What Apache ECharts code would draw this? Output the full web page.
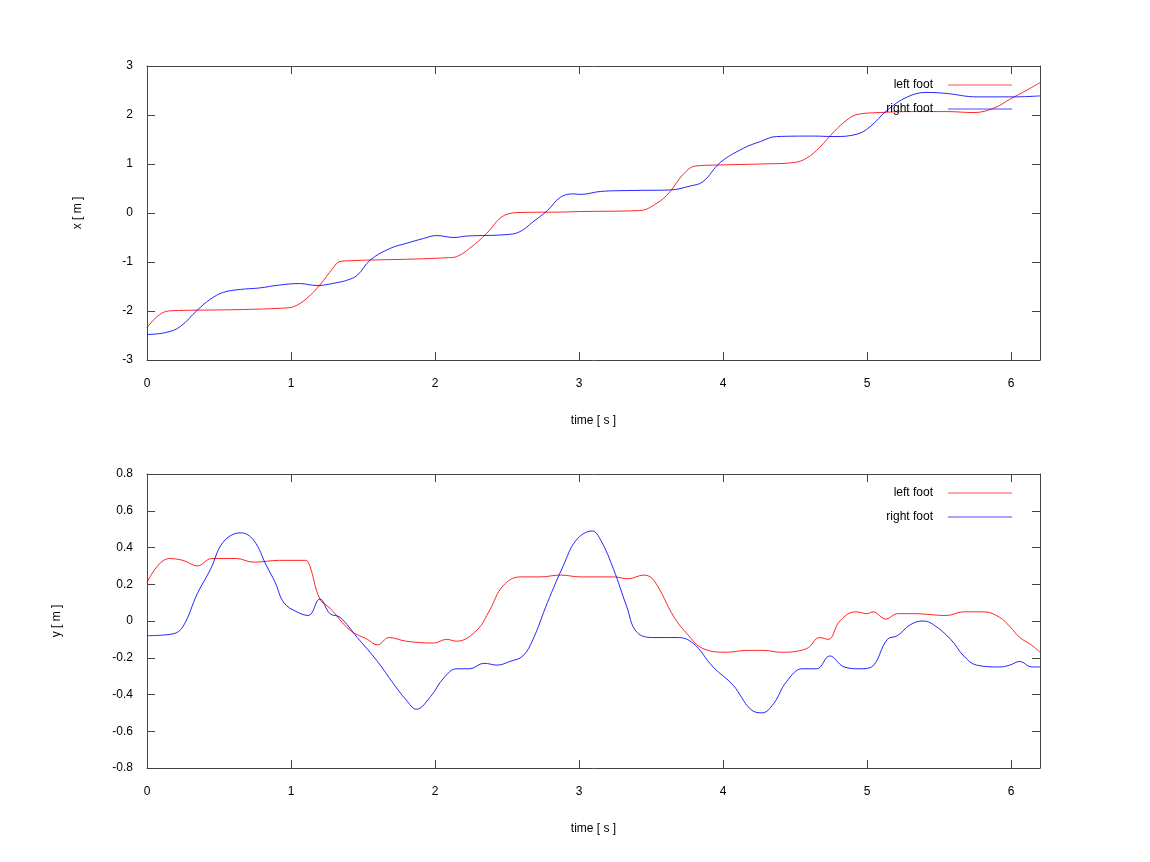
<!DOCTYPE html>
<html><head><meta charset="utf-8">
<script src="https://cdn.jsdelivr.net/npm/echarts@6/dist/echarts.min.js"></script>
<style>html,body{margin:0;padding:0;background:#fff}#c{width:1150px;height:862px}</style>
</head><body><div id="c"></div>
<script>
// top plot: x position [m] vs time [s]
const xLeftFoot = [[0,-2.34],[0.13,-2.01],[0.22,-1.99],[0.45,-1.98],[0.67,-1.97],[0.95,-1.94],[1.02,-1.91],[1.11,-1.74],[1.20,-1.47],[1.29,-1.13],[1.34,-0.99],[1.45,-0.97],[1.55,-0.96],[1.85,-0.94],[2.10,-0.91],[2.15,-0.89],[2.24,-0.72],[2.36,-0.41],[2.45,-0.11],[2.52,-0.01],[2.59,0.01],[2.89,0.02],[3.01,0.03],[3.42,0.05],[3.54,0.20],[3.63,0.43],[3.72,0.78],[3.81,0.96],[3.98,0.98],[4.26,1.00],[4.49,1.03],[4.58,1.12],[4.67,1.34],[4.77,1.66],[4.86,1.90],[4.93,2.01],[5.09,2.05],[5.32,2.07],[5.55,2.07],[5.74,2.05],[5.88,2.14],[5.99,2.32],[6.11,2.51],[6.2,2.66]];
const xRightFoot = [[0,-2.48],[0.13,-2.44],[0.23,-2.32],[0.35,-1.98],[0.44,-1.76],[0.53,-1.62],[0.65,-1.56],[0.78,-1.53],[0.92,-1.47],[1.06,-1.44],[1.18,-1.48],[1.32,-1.42],[1.39,-1.37],[1.46,-1.27],[1.55,-0.96],[1.69,-0.72],[1.80,-0.62],[1.92,-0.52],[2.01,-0.46],[2.13,-0.50],[2.22,-0.47],[2.50,-0.44],[2.59,-0.38],[2.68,-0.18],[2.78,0.05],[2.87,0.32],[2.96,0.39],[3.01,0.38],[3.15,0.44],[3.38,0.46],[3.63,0.47],[3.77,0.55],[3.86,0.64],[3.98,1.03],[4.14,1.32],[4.26,1.46],[4.37,1.56],[4.63,1.57],[4.77,1.56],[4.93,1.61],[5.02,1.76],[5.14,2.10],[5.28,2.37],[5.41,2.46],[5.55,2.44],[5.76,2.37],[6.02,2.37],[6.2,2.39]];
// bottom plot: y position [m] vs time [s]
const yLeftFoot = [[0,0.21],[0.15,0.34],[0.25,0.33],[0.35,0.30],[0.45,0.34],[0.62,0.34],[0.74,0.32],[0.92,0.33],[1.10,0.33],[1.13,0.30],[1.20,0.12],[1.27,0.07],[1.41,-0.05],[1.53,-0.10],[1.60,-0.13],[1.68,-0.09],[1.80,-0.11],[1.99,-0.12],[2.08,-0.10],[2.15,-0.11],[2.29,-0.05],[2.38,0.06],[2.47,0.19],[2.59,0.24],[2.73,0.24],[2.87,0.25],[3.01,0.24],[3.24,0.24],[3.34,0.23],[3.45,0.25],[3.52,0.22],[3.66,0.02],[3.75,-0.07],[3.86,-0.15],[4.03,-0.17],[4.16,-0.16],[4.28,-0.16],[4.40,-0.17],[4.58,-0.15],[4.67,-0.09],[4.73,-0.10],[4.81,0.00],[4.92,0.05],[5.00,0.04],[5.04,0.05],[5.13,0.01],[5.21,0.04],[5.32,0.04],[5.55,0.03],[5.67,0.05],[5.81,0.05],[5.92,0.02],[5.99,-0.03],[6.06,-0.09],[6.14,-0.13],[6.2,-0.17]];
const yRightFoot = [[0,-0.08],[0.18,-0.07],[0.25,-0.03],[0.35,0.15],[0.44,0.28],[0.53,0.43],[0.65,0.48],[0.74,0.44],[0.83,0.30],[0.89,0.21],[0.95,0.10],[1.04,0.05],[1.12,0.03],[1.20,0.12],[1.27,0.04],[1.34,0.02],[1.46,-0.09],[1.60,-0.22],[1.71,-0.34],[1.80,-0.43],[1.87,-0.48],[1.97,-0.41],[2.06,-0.31],[2.15,-0.26],[2.24,-0.26],[2.34,-0.23],[2.43,-0.24],[2.52,-0.22],[2.61,-0.19],[2.68,-0.10],[2.78,0.10],[2.89,0.30],[2.98,0.44],[3.09,0.49],[3.15,0.44],[3.24,0.28],[3.33,0.08],[3.40,-0.06],[3.52,-0.09],[3.68,-0.09],[3.79,-0.12],[3.93,-0.25],[4.07,-0.35],[4.19,-0.48],[4.27,-0.50],[4.35,-0.45],[4.44,-0.33],[4.55,-0.26],[4.65,-0.26],[4.74,-0.19],[4.84,-0.25],[4.95,-0.26],[5.03,-0.25],[5.14,-0.10],[5.21,-0.08],[5.30,-0.02],[5.39,0.00],[5.46,-0.02],[5.58,-0.10],[5.67,-0.19],[5.76,-0.24],[5.92,-0.25],[5.99,-0.24],[6.06,-0.22],[6.14,-0.25],[6.2,-0.25]];
const seriesNames = ['left foot','right foot'];
const timeTicks = [0,1,2,3,4,5,6];
const xAxisTitle = 'time [ s ]';
const topYTitle = 'x [ m ]';
const bottomYTitle = 'y [ m ]';

const FONT = 'Liberation Sans, Arial, sans-serif';
const lineC = '#444';
const txt = {color:'#000', fontFamily:FONT, fontSize:12};
const xFmt = v => (timeTicks.indexOf(Math.round(v*1000)/1000) >= 0 ? String(Math.round(v)) : '');

function xAxes(gi){
  return [
    {type:'value', gridIndex:gi, min:0, max:6.2, interval:1, position:'bottom',
     name:xAxisTitle, nameLocation:'middle', nameGap:55, nameTextStyle:txt,
     axisLine:{show:true,onZero:false,lineStyle:{color:lineC}},
     axisTick:{show:true,inside:true,length:8,lineStyle:{color:lineC}},
     axisLabel:{...txt, margin:18, formatter:xFmt, showMaxLabel:false},
     splitLine:{show:false}},
    {type:'value', gridIndex:gi, min:0, max:6.2, interval:1, position:'top',
     axisLine:{show:true,onZero:false,lineStyle:{color:lineC}},
     axisTick:{show:true,inside:true,length:8,lineStyle:{color:lineC}},
     axisLabel:{show:false}, splitLine:{show:false}}
  ];
}
function yAxes(gi,min,max,itv,title,gap,dec){
  return [
    {type:'value', gridIndex:gi, min:min, max:max, interval:itv, position:'left',
     name:title, nameLocation:'middle', nameGap:gap, nameTextStyle:txt,
     axisLine:{show:true,onZero:false,lineStyle:{color:lineC}},
     axisTick:{show:true,inside:true,length:8,lineStyle:{color:lineC}},
     axisLabel:{...txt, margin:14, formatter:v=>String(+(+v).toFixed(dec))},
     splitLine:{show:false}},
    {type:'value', gridIndex:gi, min:min, max:max, interval:itv, position:'right',
     axisLine:{show:true,onZero:false,lineStyle:{color:lineC}},
     axisTick:{show:true,inside:true,length:8,lineStyle:{color:lineC}},
     axisLabel:{show:false}, splitLine:{show:false}}
  ];
}
function ser(name,data,color,xi,yi){
  return {type:'line', name:name, data:data, xAxisIndex:xi, yAxisIndex:yi,
    showSymbol:false, symbol:'none', smooth:0.4, lineStyle:{color:color,width:1,opacity:0.85}, itemStyle:{color:color}};
}
function legend(top){
  return {orient:'vertical', right:133, top:top, align:'right', icon:'rect',
    itemWidth:64, itemHeight:1, itemGap:10, data:seriesNames,
    itemStyle:{opacity:0.7},
    textStyle:{...txt, lineHeight:14, padding:[0,10,0,0]}, selectedMode:false};
}
const chart = echarts.init(document.getElementById('c'));
chart.setOption({
  backgroundColor:'#fff',
  animation:false,
  grid:[{left:147,right:110,top:66,height:294},{left:147,right:110,top:474,height:294}],
  legend:[legend(73),legend(481)],
  xAxis:[...xAxes(0),...xAxes(1)],
  yAxis:[...yAxes(0,-3,3,1,topYTitle,63,0),...yAxes(1,-0.8,0.8,0.2,bottomYTitle,84,1)],
  series:[
    ser(seriesNames[0],xLeftFoot,'#ff0000',0,0),
    ser(seriesNames[1],xRightFoot,'#0000ff',0,0),
    ser(seriesNames[0],yLeftFoot,'#ff0000',2,2),
    ser(seriesNames[1],yRightFoot,'#0000ff',2,2)
  ]
});
</script></body></html>
